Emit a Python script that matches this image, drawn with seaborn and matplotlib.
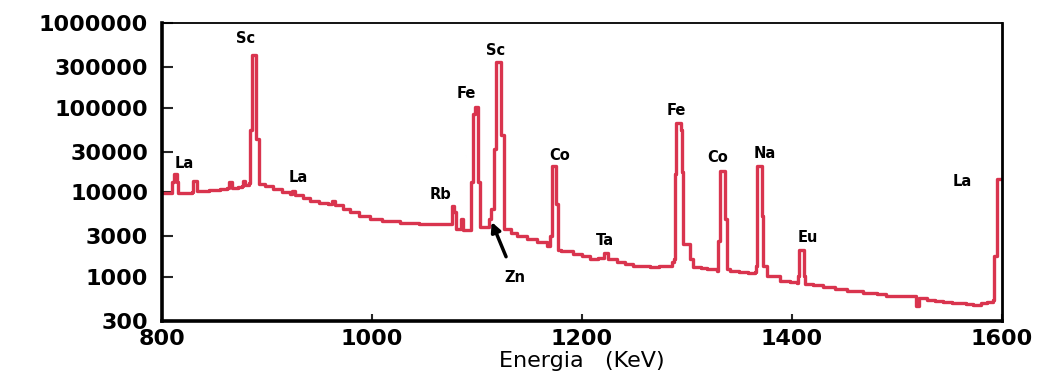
import numpy as np
import pandas as pd
import matplotlib
matplotlib.use('Agg')
import matplotlib.pyplot as plt
import seaborn as sns

# spectrum (energy keV, counts)
energy = [
    800, 808, 810, 811, 813, 814, 815, 822, 829, 830, 832, 833, 845, 855, 862,
    864, 866, 867, 872, 876, 877, 878, 879, 883, 884, 886, 889, 890, 891, 892,
    898, 906, 914, 922, 924, 926, 927, 934, 941, 950, 958, 962, 964, 965, 972,
    979, 988, 998, 1010, 1027, 1045, 1060, 1071, 1075, 1076, 1077, 1078, 1079,
    1080, 1084, 1085, 1086, 1087, 1093, 1094, 1095, 1096, 1098, 1100, 1101,
    1102, 1103, 1109, 1111, 1113, 1115, 1116, 1117, 1118, 1122, 1123, 1125,
    1126, 1132, 1138, 1148, 1157, 1167, 1170, 1171, 1174, 1175, 1176, 1177,
    1180, 1191, 1200, 1208, 1215, 1221, 1223, 1225, 1233, 1241, 1249, 1257,
    1265, 1273, 1281, 1286, 1288, 1289, 1290, 1292, 1294, 1295, 1296, 1302,
    1303, 1306, 1313, 1319, 1329, 1330, 1331, 1335, 1336, 1337, 1338, 1341,
    1350, 1358, 1365, 1366, 1367, 1369, 1371, 1372, 1373, 1376, 1389, 1398,
    1405, 1406, 1407, 1410, 1411, 1412, 1420, 1430, 1441, 1452, 1460, 1468,
    1481, 1490, 1496, 1505, 1512, 1518, 1520, 1521, 1529, 1536, 1544, 1552,
    1560, 1566, 1572, 1580, 1586, 1591, 1592, 1594, 1595, 1599,
]
counts = [
    9700, 9750, 13100, 16300, 16300, 13100, 9800, 9900, 10000, 13500, 13500,
    10300, 10600, 10900, 11100, 13100, 13100, 11300, 11600, 11800, 13500,
    13500, 12200, 12700, 55000, 421000, 421000, 42000, 42000, 12400, 11800,
    10800, 10100, 9470, 10300, 10300, 9300, 8500, 7830, 7500, 7220, 7830,
    7830, 7100, 6400, 5820, 5230, 4810, 4550, 4310, 4250, 4220, 4200, 4200,
    6840, 6840, 5820, 5820, 3670, 3670, 4810, 4810, 3570, 3600, 13100, 13100,
    85000, 102800, 102800, 13100, 13100, 3870, 3870, 4810, 6300, 6300, 32100,
    32100, 348000, 348000, 48000, 48000, 3670, 3300, 3030, 2800, 2580, 2320,
    3030, 20200, 20200, 7220, 7220, 2100, 2020, 1870, 1750, 1630, 1650, 1920,
    1920, 1600, 1500, 1420, 1350, 1330, 1310, 1330, 1350, 1500, 1600, 16300,
    66600, 66600, 55000, 17200, 2440, 2440, 1600, 1310, 1280, 1250, 1170,
    2660, 17700, 17700, 4810, 4810, 1250, 1170, 1150, 1100, 1150, 1350, 20200,
    20200, 5230, 1350, 1350, 1030, 897, 870, 850, 1030, 2080, 2080, 1030, 830,
    800, 762, 720, 684, 670, 650, 620, 600, 585, 590, 600, 450, 450, 560, 530,
    515, 505, 495, 490, 475, 460, 490, 505, 530, 1770, 1770, 14200, 14200,
]

# peak labels (text, energy, counts)
peak_names = ['La', 'Sc', 'La', 'Rb', 'Fe', 'Sc', 'Co', 'Ta', 'Fe', 'Co', 'Na', 'Eu', 'La']
peak_x = [821, 880, 930, 1065, 1090, 1118, 1179, 1222, 1290, 1329, 1374, 1415, 1562]
peak_y = [21900, 649000, 15000, 9470, 146000, 468000, 27200, 2650, 92300, 25800, 28800, 2880, 13500]

yticks = [300, 1000, 3000, 10000, 30000, 100000, 300000, 1000000]
xticks = [800, 1000, 1200, 1400, 1600]

red = '#d9344e'

sns.set_style('ticks')
plt.rcParams['font.family'] = ['DejaVu Sans']

fig = plt.figure(figsize=(10.47, 3.78), dpi=100)
ax = fig.add_axes([0.1547, 0.1508, 0.8023, 0.7884])

df = pd.DataFrame({'energy': energy, 'counts': counts})
sns.lineplot(data=df, x='energy', y='counts', ax=ax, color=red,
             linewidth=2.4, estimator=None, drawstyle='steps-post')

ax.set_yscale('log')
ax.set_xlim(800, 1600)
ax.set_ylim(300, 1000000)
ax.set_yticks(yticks, labels=[str(t) for t in yticks])
ax.set_yticks([], minor=True)
ax.set_xticks(xticks, labels=[str(t) for t in xticks])

for lab in ax.get_yticklabels() + ax.get_xticklabels():
    lab.set_fontweight('bold')
    lab.set_fontsize(16)
    lab.set_color('black')

ax.tick_params(axis='y', direction='in', length=8, width=1.5, pad=10)
ax.tick_params(axis='x', direction='in', length=5, width=1.5, pad=6)

ax.spines['left'].set_linewidth(2.6)
ax.spines['bottom'].set_linewidth(2.6)
ax.spines['top'].set_linewidth(1.3)
ax.spines['right'].set_linewidth(2.0)
for s in ax.spines.values():
    s.set_color('black')

ax.set_xlabel('Energia   (KeV)', fontsize=16, labelpad=1, color='black')
ax.set_ylabel('')

for name, x, y in zip(peak_names, peak_x, peak_y):
    ax.text(x, y, name, ha='center', va='center', fontsize=10.5,
            fontweight='bold', color='black')

# Zn label with arrow to the small peak
ax.annotate('Zn', xy=(1114, 4440), xytext=(1136, 973), color='black',
            ha='center', va='center', fontsize=10.5, fontweight='bold',
            arrowprops=dict(arrowstyle='-|>', color='black', lw=2.5,
                            mutation_scale=14, shrinkA=8, shrinkB=0))

plt.savefig('out.png', dpi=100)
plt.close()
